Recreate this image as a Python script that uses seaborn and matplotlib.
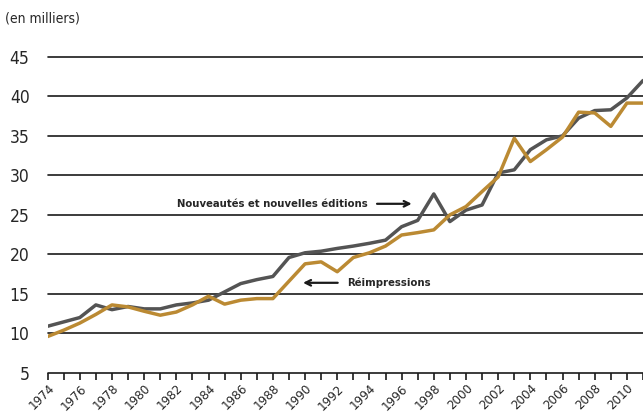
import pandas as pd
import matplotlib
matplotlib.use('Agg')
import matplotlib.pyplot as plt
import seaborn as sns

# Données (en milliers de titres)
years = list(range(1974, 2012))
nouveautes = [10.9, 11.45, 12.0, 13.6, 13.0, 13.4, 13.1, 13.1, 13.6, 13.85,
              14.2, 15.25, 16.3, 16.8, 17.2, 19.6, 20.2, 20.4, 20.75, 21.05,
              21.4, 21.8, 23.5, 24.3, 27.65, 24.15, 25.6, 26.25, 30.3, 30.7,
              33.25, 34.5, 35.0, 37.25, 38.2, 38.3, 39.8, 42.0]
reimpressions = [9.6, 10.4, 11.3, 12.4, 13.6, 13.35, 12.8, 12.3, 12.7, 13.6,
                 14.7, 13.7, 14.2, 14.4, 14.4, 16.6, 18.8, 19.05, 17.8, 19.6,
                 20.2, 21.05, 22.45, 22.75, 23.1, 25.0, 26.05, 27.95, 29.8, 34.7,
                 31.75, 33.25, 34.85, 38.0, 37.9, 36.2, 39.15, 39.15]
y_ticks = [5, 10, 15, 20, 25, 30, 35, 40, 45]
x_labels = list(range(1974, 2011, 2))

df = pd.DataFrame({
    'annee': years * 2,
    'valeur': nouveautes + reimpressions,
    'serie': ['Nouveautés et nouvelles éditions'] * len(years) + ['Réimpressions'] * len(years),
})

sns.set_style('white')
plt.rcParams['font.family'] = ['DejaVu Sans']
plt.rcParams['font.stretch'] = 'condensed'

fig = plt.figure(figsize=(6.43, 4.12), dpi=100)
ax = fig.add_axes([0.074, 0.095, 0.926, 0.767])

for y in y_ticks:
    ax.axhline(y, color='#1a1a1a', lw=1.2, zorder=1, clip_on=False)

sns.lineplot(data=df, x='annee', y='valeur', hue='serie',
             palette={'Nouveautés et nouvelles éditions': '#545454',
                      'Réimpressions': '#bb8a33'},
             linewidth=2.5, legend=False, ax=ax, zorder=3)

ax.set_xlim(1974, 2010.78)
ax.set_ylim(5, 45)
for s in ax.spines.values():
    s.set_visible(False)

ax.set_xticks(years, minor=True)
ax.set_xticks(x_labels)
ax.set_xticklabels([str(x) for x in x_labels], rotation=45, ha='right',
                   rotation_mode='anchor', fontsize=9.5)
ax.tick_params(axis='x', which='both', direction='out', length=5, width=1.2,
               color='#1a1a1a', bottom=True, pad=1.5)
ax.set_yticks(y_ticks)
ax.set_yticklabels([str(y) for y in y_ticks], fontsize=12.5)
ax.tick_params(axis='y', length=0, pad=13)
ax.set_xlabel('')
ax.set_ylabel('')

fig.text(0.008, 0.955, '(en milliers)', fontsize=10, ha='left', va='center')

ax.text(1993.9, 26.4, 'Nouveautés et nouvelles éditions', fontsize=8.1,
        fontweight='bold', ha='right', va='center')
ax.annotate('', xy=(1996.8, 26.4), xytext=(1994.3, 26.4),
            arrowprops=dict(arrowstyle='->', color='#1a1a1a', lw=1.6))
ax.text(1992.6, 16.4, 'Réimpressions', fontsize=8.1, fontweight='bold',
        ha='left', va='center')
ax.annotate('', xy=(1989.7, 16.4), xytext=(1992.2, 16.4),
            arrowprops=dict(arrowstyle='->', color='#1a1a1a', lw=1.6))

plt.savefig('out.png', dpi=100)
plt.close()
